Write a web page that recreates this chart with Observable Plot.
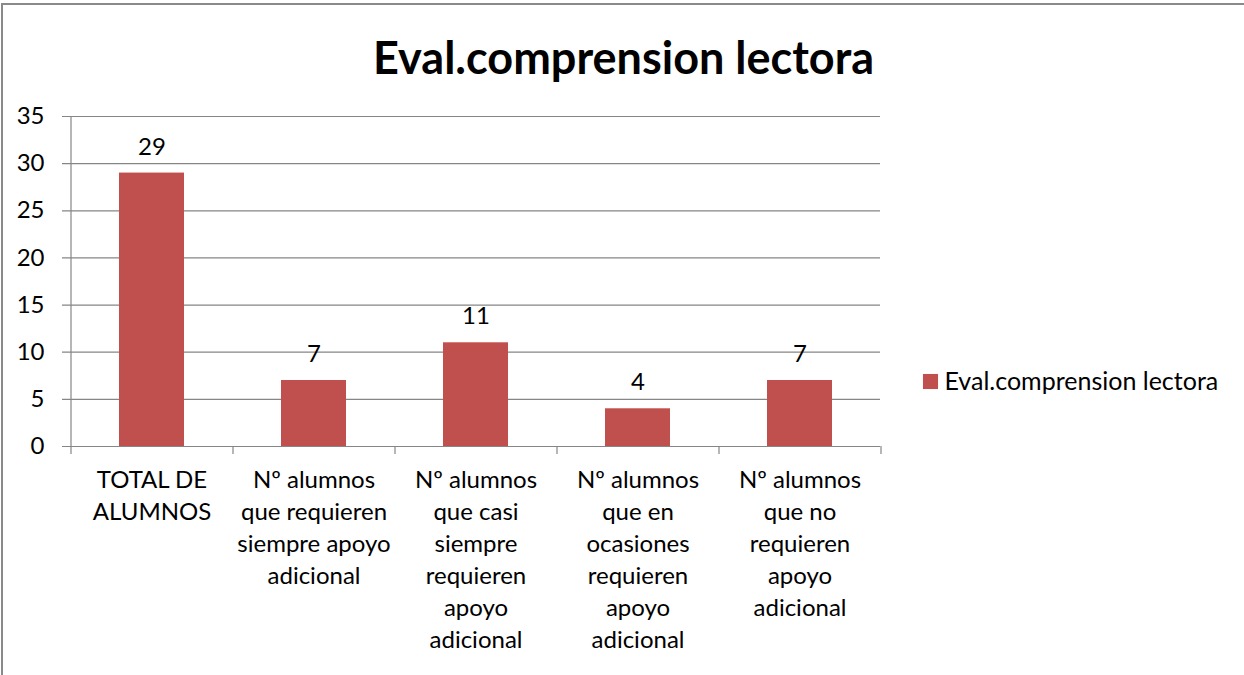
<!DOCTYPE html>
<html>
<head>
<meta charset="utf-8">
<script src="https://cdn.jsdelivr.net/npm/d3@7"></script>
<script src="https://cdn.jsdelivr.net/npm/@observablehq/plot@0.6"></script>
<style>
  html, body { margin: 0; padding: 0; background: #fff; }
  #wrap { position: relative; width: 1244px; height: 675px; overflow: hidden; }
  #border { position: absolute; left: 1px; top: 3px; width: 1250px; height: 670px;
            border-left: 2px solid #8a8a8a; border-top: 2px solid #8a8a8a; border-bottom: 1px solid #e0e0e0; pointer-events: none; }
  svg { display: block; }
</style>
</head>
<body>
<div id="wrap"><div id="border"></div></div>
<script>
const title = "Eval.comprension lectora";
const seriesName = "Eval.comprension lectora";
const categories = [
  "TOTAL DE\nALUMNOS",
  "Nº alumnos\nque requieren\nsiempre apoyo\nadicional",
  "Nº alumnos\nque casi\nsiempre\nrequieren\napoyo\nadicional",
  "Nº alumnos\nque en\nocasiones\nrequieren\napoyo\nadicional",
  "Nº alumnos\nque no\nrequieren\napoyo\nadicional"
];
const values = [29, 7, 11, 4, 7];
const yTicks = [0, 5, 10, 15, 20, 25, 30, 35];

const barColor = "#C0504D";
const gridColor = "#868686";
const font = "Lato, 'Open Sans', sans-serif";

const data = categories.map((c, i) => ({category: c, value: values[i]}));
const step = (880 - 70) / categories.length;

const chart = Plot.plot({
  width: 1244,
  height: 675,
  marginLeft: 70,
  marginRight: 364,
  marginTop: 116,
  marginBottom: 229,
  style: {fontFamily: font, fontSize: "24px", color: "#000", background: "transparent"},
  x: {domain: categories, paddingInner: 0.6, paddingOuter: 0.3, label: null},
  y: {domain: [0, 35], label: null},
  marks: [
    Plot.gridY(yTicks, {stroke: gridColor, strokeOpacity: 1, strokeWidth: 1.2, insetLeft: -8}),
    Plot.axisY(yTicks, {tickSize: 0, tickPadding: 26, fontSize: 24, label: null}),
    Plot.ruleX([categories[0]], {dx: -step / 2, y1: 0, y2: 35, stroke: gridColor, strokeWidth: 1.2}),
    Plot.ruleX(categories, {dx: -step / 2, y1: 0, y2: 0, insetBottom: -8, stroke: gridColor, strokeWidth: 1.2}),
    Plot.ruleX([categories[categories.length - 1]], {dx: step / 2, y1: 0, y2: 0, insetBottom: -8, stroke: gridColor, strokeWidth: 1.2}),
    Plot.barY(data, {x: "category", y: "value", fill: barColor}),
    Plot.text(data, {x: "category", y: "value", text: d => String(d.value), dy: -26, fontSize: 24, fill: "#000"}),
    Plot.axisX({tickSize: 0, tickPadding: 19, fontSize: 24, lineHeight: 1.33, label: null, lineAnchor: "top"}),
    Plot.text([title], {frameAnchor: "top", dx: 148, dy: -74, fontSize: 45, fontWeight: "bold", fill: "#000"}),
    Plot.dot([seriesName], {frameAnchor: "right", dx: 50, dy: 100, symbol: "square", r: 8.5, fill: barColor, stroke: null}),
    Plot.text([seriesName], {frameAnchor: "right", dx: 64, dy: 100, textAnchor: "start", fontSize: 25, fill: "#000"})
  ]
});
document.getElementById("wrap").prepend(chart);
</script>
</body>
</html>
